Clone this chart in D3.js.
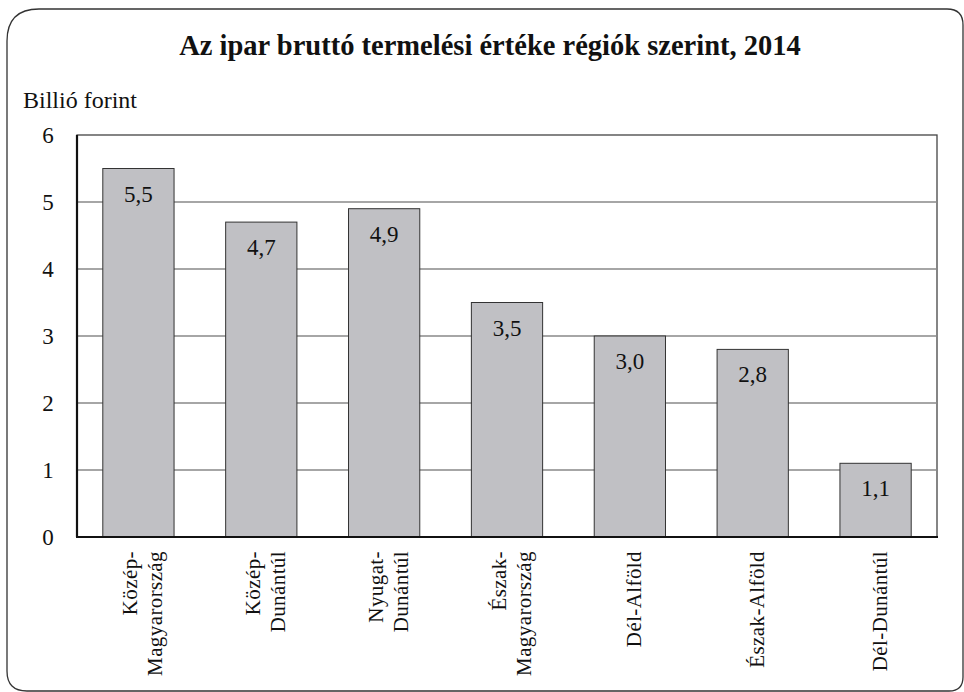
<!DOCTYPE html>
<html>
<head>
<meta charset="utf-8">
<script src="https://cdn.jsdelivr.net/npm/d3@7"></script>
<style>
  body { margin: 0; background: #fff; }
  svg text { fill: #111; }
</style>
</head>
<body>
<div class="chart"></div>
<script>
// chart data
const regions = [
  ["Közép-", "Magyarország"],
  ["Közép-", "Dunántúl"],
  ["Nyugat-", "Dunántúl"],
  ["Észak-", "Magyarország"],
  ["Dél-Alföld"],
  ["Észak-Alföld"],
  ["Dél-Dunántúl"]
];
const values = [5.5, 4.7, 4.9, 3.5, 3.0, 2.8, 1.1];
const yTicks = [0, 1, 2, 3, 4, 5, 6];

const width = 964, height = 692;
const serif = "'Liberation Serif', Tinos, 'Times New Roman', 'DejaVu Serif', serif";
// plot area
const plotL = 77, plotR = 937, plotT = 135, plotB = 537;

const svg = d3.select(".chart").append("svg")
  .attr("width", width)
  .attr("height", height)
  .attr("font-family", serif);

// outer frame, corners not all the same
const fx0 = 7, fy0 = 9, fx1 = 963, fy1 = 691;
const rTL = 32, rTR = 16, rBR = 14, rBL = 20;
svg.append("path")
  .attr("d", `M${fx0},${fy0 + rTL} Q${fx0},${fy0} ${fx0 + rTL},${fy0}
    L${fx1 - rTR},${fy0} Q${fx1},${fy0} ${fx1},${fy0 + rTR}
    L${fx1},${fy1 - rBR} Q${fx1},${fy1} ${fx1 - rBR},${fy1}
    L${fx0 + rBL},${fy1} Q${fx0},${fy1} ${fx0},${fy1 - rBL} Z`)
  .attr("fill", "none")
  .attr("stroke", "#333")
  .attr("stroke-width", 1.3);

// title
svg.append("text")
  .attr("x", 490).attr("y", 55)
  .attr("text-anchor", "middle")
  .style("font-size", "28.5px")
  .style("font-weight", "bold")
  .text("Az ipar bruttó termelési értéke régiók szerint, 2014");

svg.append("text")
  .attr("x", 23).attr("y", 108)
  .style("font-size", "24px")
  .text("Billió forint");

const x = d3.scaleBand()
  .domain(d3.range(values.length))
  .range([plotL, plotR])
  .paddingInner(0.42)
  .paddingOuter(0.21);

const y = d3.scaleLinear()
  .domain([0, 6])
  .range([plotB, plotT]);

// plot frame
svg.append("rect")
  .attr("x", plotL).attr("y", plotT)
  .attr("width", plotR - plotL).attr("height", plotB - plotT)
  .attr("fill", "none")
  .attr("stroke", "#444")
  .attr("stroke-width", 1.3);

// gridlines
svg.append("g")
  .selectAll("line")
  .data(yTicks.filter(d => d > 0 && d < 6))
  .enter().append("line")
  .attr("x1", plotL).attr("x2", plotR)
  .attr("y1", d => y(d)).attr("y2", d => y(d))
  .attr("stroke", "#888")
  .attr("stroke-width", 1.6);

// y tick labels
svg.append("g")
  .selectAll("text")
  .data(yTicks)
  .enter().append("text")
  .attr("x", 48)
  .attr("y", d => y(d) + 8)
  .attr("text-anchor", "middle")
  .style("font-size", "23px")
  .text(d => d);

// bars
svg.append("g")
  .selectAll("rect")
  .data(values)
  .enter().append("rect")
  .attr("x", (d, i) => x(i))
  .attr("y", d => y(d))
  .attr("width", x.bandwidth())
  .attr("height", d => y(0) - y(d))
  .attr("fill", "#c0c0c4")
  .attr("stroke", "#333")
  .attr("stroke-width", 1);

// value labels
svg.append("g")
  .selectAll("text")
  .data(values)
  .enter().append("text")
  .attr("x", (d, i) => x(i) + x.bandwidth() / 2)
  .attr("y", d => y(d) + 33)
  .attr("text-anchor", "middle")
  .style("font-size", "23px")
  .text(d => d.toFixed(1).replace(".", ","));

// axes lines
svg.append("line")
  .attr("x1", plotL).attr("x2", plotL)
  .attr("y1", plotT).attr("y2", plotB)
  .attr("stroke", "#111").attr("stroke-width", 2.2);
svg.append("line")
  .attr("x1", plotL - 1).attr("x2", plotR + 1)
  .attr("y1", plotB).attr("y2", plotB)
  .attr("stroke", "#111").attr("stroke-width", 2.2);

// category labels (rotated)
const cat = svg.append("g")
  .selectAll("text")
  .data(regions)
  .enter().append("text")
  .attr("text-anchor", "end")
  .attr("transform", (d, i) => {
    const cx = x(i) + x.bandwidth() / 2;
    return `translate(${cx},551) rotate(-90)`;
  })
  .style("font-size", "21px")
  .style("letter-spacing", "0.4px");

cat.selectAll("tspan")
  .data(d => d.map((t, j) => ({ t, j, n: d.length })))
  .enter().append("tspan")
  .attr("x", 0)
  .attr("y", d => (d.j - (d.n - 1) / 2) * 25 + 11)
  .text(d => d.t);
</script>
</body>
</html>
